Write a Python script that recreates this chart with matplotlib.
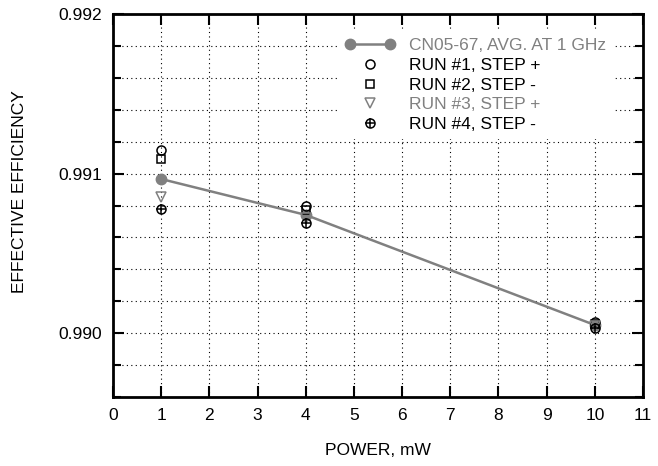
import matplotlib

matplotlib.use("Agg")

import matplotlib.pyplot as plt
from matplotlib.legend_handler import HandlerLine2D
from matplotlib.ticker import MultipleLocator, FixedLocator

plt.rcParams["font.family"] = ["Liberation Sans", "DejaVu Sans"]

power = [1, 4, 10]
avg_eff = [0.990966, 0.990741, 0.990051]
run1 = [0.991148, 0.990797, 0.990068]
run2 = [0.991091, 0.990772, 0.990060]
run3 = [0.990853, 0.990722, 0.990045]
run4 = [0.990778, 0.990690, 0.990030]

labels = [
    "CN05-67, AVG. AT 1 GHz",
    "RUN #1, STEP +",
    "RUN #2, STEP -",
    "RUN #3, STEP +",
    "RUN #4, STEP -",
]

gray = "#808080"
fs = 12.5

fig = plt.figure(figsize=(6.58, 4.66), dpi=100)
ax = fig.add_axes([113 / 658, 1 - 397 / 466, 530 / 658, 383 / 466])

avg_line, = ax.plot(power, avg_eff, "-o", color=gray, lw=1.8, ms=7.5, zorder=3)
h1, = ax.plot(power, run1, "o", mfc="none", mec="black", ms=6.5, mew=1.1, ls="none", zorder=4)
h2, = ax.plot(power, run2, "s", mfc="none", mec="black", ms=6, mew=1.1, ls="none", zorder=4)
h3, = ax.plot(power, run3, "v", mfc="none", mec=gray, ms=6.5, mew=1.1, ls="none", zorder=4)
h4a, = ax.plot(power, run4, "o", mfc="none", mec="black", ms=6.5, mew=1.1, ls="none", zorder=4)
h4b, = ax.plot(power, run4, "+", color="black", ms=6.5, mew=1.1, ls="none", zorder=4)

ax.set_xlim(0, 11)
ax.set_ylim(0.9896, 0.992)
ax.xaxis.set_major_locator(MultipleLocator(1))
ax.yaxis.set_major_locator(FixedLocator([0.990, 0.991, 0.992]))
ax.yaxis.set_minor_locator(MultipleLocator(0.0002))
ax.yaxis.set_major_formatter(plt.FuncFormatter(lambda v, p: f"{v:.3f}"))

ax.grid(True, which="both", color="black", ls=(0, (1, 3)), lw=0.8)
ax.tick_params(which="both", direction="in", top=True, right=True,
               labelsize=fs, width=1.5, pad=8)
ax.tick_params(which="major", length=8)
ax.tick_params(which="minor", length=6)
for s in ax.spines.values():
    s.set_linewidth(2)

ax.set_xlabel("POWER, mW", fontsize=fs, labelpad=14)
ax.set_ylabel("EFFECTIVE EFFICIENCY", fontsize=fs)
ax.yaxis.set_label_coords(-0.163, 0.537)

leg = ax.legend(
    [avg_line, h1, h2, h3, (h4a, h4b)], labels,
    loc="upper left", bbox_to_anchor=(0.425, 0.955), frameon=True,
    fontsize=fs, handlelength=2.9, handletextpad=0.75, labelspacing=0.26,
    handler_map={avg_line: HandlerLine2D(numpoints=2)},
    borderaxespad=0, borderpad=0.4,
)
leg.get_frame().set_edgecolor("none")
leg.get_frame().set_facecolor("white")
leg.get_frame().set_alpha(1)
leg.get_frame().set_boxstyle("square", pad=0)
for txt, col in zip(leg.get_texts(), [gray, "black", "black", gray, "black"]):
    txt.set_color(col)

fig.savefig("out.png", dpi=100)
